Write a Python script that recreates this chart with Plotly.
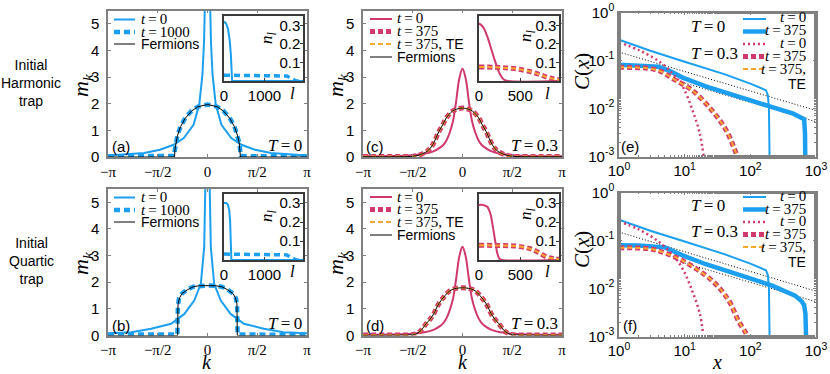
import numpy as np
import plotly.graph_objects as go

W, H = 830, 374
PI = np.pi

BLUE = "#1C9FF0"
MAG = "#D0386E"
ORANGE = "#F9A62B"
SERIF = "Liberation Serif"
SANS = "Liberation Sans"

# ---- panel (a): harmonic trap, T=0 ----
a_k_t0 = [-3.14, -2.6, -2.0, -1.5, -1.07, -0.75, -0.44, -0.26, -0.16, -0.11, -0.08, -0.05, 0.0,
          0.05, 0.08, 0.11, 0.16, 0.26, 0.44, 0.75, 1.07, 1.5, 2.0, 2.6, 3.14]
a_m_t0 = [0.06, 0.09, 0.15, 0.27, 0.46, 0.71, 1.21, 1.97, 3.09, 4.3, 5.5, 7.5, 10.0,
          7.5, 5.5, 4.3, 3.09, 1.97, 1.21, 0.71, 0.46, 0.27, 0.15, 0.09, 0.06]
a_k_t1000 = [-3.14, -2.0, -1.3, -1.05, -1.03, -1.0, -0.95, -0.85, -0.7, -0.5, -0.3, 0.0,
             0.3, 0.5, 0.7, 0.85, 0.95, 1.0, 1.03, 1.05, 1.3, 2.0, 3.14]
a_m_t1000 = [0.03, 0.03, 0.03, 0.04, 0.28, 0.55, 0.81, 1.15, 1.47, 1.74, 1.89, 1.97,
             1.89, 1.74, 1.47, 1.15, 0.81, 0.55, 0.28, 0.04, 0.03, 0.03, 0.03]
a_k_ferm = [-3.14, -1.04, -1.03, -1.0, -0.95, -0.85, -0.7, -0.5, -0.3, 0.0,
            0.3, 0.5, 0.7, 0.85, 0.95, 1.0, 1.03, 1.04, 3.14]
a_m_ferm = [0.0, 0.0, 0.27, 0.54, 0.8, 1.14, 1.46, 1.73, 1.89, 1.97,
            1.89, 1.73, 1.46, 1.14, 0.8, 0.54, 0.27, 0.0, 0.0]
a_l_t0 = [0, 50, 100, 140, 170, 185, 195, 200, 1950]
a_n_t0 = [0.32, 0.31, 0.28, 0.22, 0.14, 0.07, 0.01, 0.0, 0.0]
a_l_t1000 = [0, 500, 1000, 1400, 1550, 1650, 1720, 1780, 1950]
a_n_t1000 = [0.031, 0.031, 0.030, 0.029, 0.027, 0.015, 0.005, 0.0, 0.0]

# ---- panel (b): quartic trap, T=0 ----
b_k_t0 = [-3.14, -2.4, -1.78, -1.15, -0.73, -0.42, -0.21, -0.105, -0.07, -0.04, 0.0,
          0.04, 0.07, 0.105, 0.21, 0.42, 0.73, 1.15, 1.78, 2.4, 3.14]
b_m_t0 = [0.08, 0.12, 0.25, 0.44, 0.81, 1.31, 1.94, 3.31, 5.5, 7.5, 10.0,
          7.5, 5.5, 3.31, 1.94, 1.31, 0.81, 0.44, 0.25, 0.12, 0.08]
b_k_t1000 = [-3.14, -2.0, -1.2, -0.95, -0.935, -0.9, -0.8, -0.63, -0.45, -0.25, 0.0,
             0.25, 0.45, 0.63, 0.8, 0.9, 0.935, 0.95, 1.2, 2.0, 3.14]
b_m_t1000 = [0.03, 0.03, 0.03, 0.04, 1.1, 1.4, 1.58, 1.73, 1.83, 1.87, 1.88,
             1.87, 1.83, 1.73, 1.58, 1.4, 1.1, 0.04, 0.03, 0.03, 0.03]
b_k_ferm = [-3.14, -0.94, -0.935, -0.93, -0.88, -0.8, -0.63, -0.45, -0.25, 0.0,
            0.25, 0.45, 0.63, 0.8, 0.88, 0.93, 0.935, 0.94, 3.14]
b_m_ferm = [0.0, 0.0, 0.9, 1.19, 1.42, 1.58, 1.72, 1.83, 1.87, 1.88,
            1.87, 1.83, 1.72, 1.58, 1.42, 1.19, 0.9, 0.0, 0.0]
b_l_t0 = [0, 60, 100, 130, 150, 165, 175, 182, 1950]
b_n_t0 = [0.30, 0.30, 0.29, 0.26, 0.21, 0.12, 0.04, 0.0, 0.0]
b_l_t1000 = [0, 500, 1000, 1400, 1550, 1650, 1720, 1780, 1950]
b_n_t1000 = [0.031, 0.031, 0.031, 0.030, 0.027, 0.015, 0.005, 0.0, 0.0]

# ---- panel (c): harmonic trap, T=0.3 ----
c_k_t0 = [-3.14, -2.2, -1.6, -1.2, -0.9, -0.7, -0.6, -0.5, -0.4, -0.3, -0.2, -0.1, 0.0,
          0.1, 0.2, 0.3, 0.4, 0.5, 0.6, 0.7, 0.9, 1.2, 1.6, 2.2, 3.14]
c_m_t0 = [0.03, 0.04, 0.07, 0.12, 0.22, 0.36, 0.46, 0.64, 0.93, 1.35, 2.1, 2.95, 3.31,
          2.95, 2.1, 1.35, 0.93, 0.64, 0.46, 0.36, 0.22, 0.12, 0.07, 0.04, 0.03]
c_k_t375 = [-3.14, -2.0, -1.55, -1.33, -1.12, -1.03, -0.94, -0.85, -0.745, -0.62, -0.51, -0.32, -0.2, 0.0,
            0.2, 0.32, 0.51, 0.62, 0.745, 0.85, 0.94, 1.03, 1.12, 1.33, 1.55, 2.0, 3.14]
c_m_t375 = [0.02, 0.02, 0.03, 0.09, 0.21, 0.31, 0.46, 0.68, 0.96, 1.22, 1.47, 1.72, 1.79, 1.84,
            1.79, 1.72, 1.47, 1.22, 0.96, 0.68, 0.46, 0.31, 0.21, 0.09, 0.03, 0.02, 0.02]
c_m_te = [0.02, 0.02, 0.03, 0.09, 0.21, 0.31, 0.46, 0.68, 0.96, 1.22, 1.47, 1.72, 1.79, 1.84,
          1.79, 1.72, 1.47, 1.22, 0.96, 0.68, 0.46, 0.31, 0.21, 0.09, 0.03, 0.02, 0.02]
c_m_ferm = [0.01, 0.01, 0.03, 0.09, 0.21, 0.31, 0.46, 0.68, 0.96, 1.22, 1.47, 1.72, 1.79, 1.84,
            1.79, 1.72, 1.47, 1.22, 0.96, 0.68, 0.46, 0.31, 0.21, 0.09, 0.03, 0.01, 0.01]
c_l_t0 = [0, 50, 100, 150, 200, 250, 300, 350, 970]
c_n_t0 = [0.31, 0.29, 0.24, 0.17, 0.10, 0.04, 0.008, 0.0, 0.0]
c_l_t375 = [0, 200, 350, 500, 650, 750, 825, 900, 970]
c_n_t375 = [0.075, 0.074, 0.070, 0.062, 0.047, 0.033, 0.020, 0.012, 0.007]

# ---- panel (d): quartic trap, T=0.3 ----
d_k_t0 = [-3.14, -2.2, -1.6, -1.2, -0.9, -0.7, -0.6, -0.5, -0.4, -0.3, -0.2, -0.1, 0.0,
          0.1, 0.2, 0.3, 0.4, 0.5, 0.6, 0.7, 0.9, 1.2, 1.6, 2.2, 3.14]
d_m_t0 = [0.03, 0.04, 0.07, 0.12, 0.22, 0.36, 0.47, 0.66, 0.96, 1.38, 2.13, 2.97, 3.33,
          2.97, 2.13, 1.38, 0.96, 0.66, 0.47, 0.36, 0.22, 0.12, 0.07, 0.04, 0.03]
d_k_t375 = [-3.14, -2.2, -1.6, -1.45, -1.31, -1.15, -1.03, -0.91, -0.75, -0.55, -0.4, -0.2, 0.0,
            0.2, 0.4, 0.55, 0.75, 0.91, 1.03, 1.15, 1.31, 1.45, 1.6, 2.2, 3.14]
d_m_t375 = [0.02, 0.02, 0.03, 0.07, 0.19, 0.44, 0.6, 0.81, 1.19, 1.5, 1.68, 1.77, 1.79,
            1.77, 1.68, 1.5, 1.19, 0.81, 0.6, 0.44, 0.19, 0.07, 0.03, 0.02, 0.02]
d_m_te = [0.02, 0.02, 0.03, 0.07, 0.19, 0.44, 0.6, 0.81, 1.19, 1.5, 1.68, 1.77, 1.79,
          1.77, 1.68, 1.5, 1.19, 0.81, 0.6, 0.44, 0.19, 0.07, 0.03, 0.02, 0.02]
d_m_ferm = [0.01, 0.01, 0.03, 0.07, 0.19, 0.44, 0.6, 0.81, 1.19, 1.5, 1.68, 1.77, 1.79,
            1.77, 1.68, 1.5, 1.19, 0.81, 0.6, 0.44, 0.19, 0.07, 0.03, 0.01, 0.01]
d_l_t0 = [0, 50, 100, 140, 170, 200, 225, 250, 280, 970]
d_n_t0 = [0.29, 0.29, 0.28, 0.24, 0.17, 0.09, 0.03, 0.005, 0.0, 0.0]
d_l_t375 = [0, 300, 475, 600, 700, 825, 900, 970]
d_n_t375 = [0.077, 0.076, 0.072, 0.062, 0.045, 0.015, 0.008, 0.004]

# ---- panel (e): correlations, harmonic ----
e_x_t0 = [1, 3, 10, 40, 100, 150, 173, 185, 192, 195, 197]
e_c_t0 = [0.27, 0.16, 0.094, 0.052, 0.033, 0.026, 0.024, 0.019, 0.01, 0.002, 0.0005]
e_x_t375 = [1, 2, 4, 6, 9.3, 21, 68, 215, 450, 615, 660, 680, 690]
e_c_t375 = [0.082, 0.08, 0.074, 0.06, 0.044, 0.029, 0.018, 0.0107, 0.0078, 0.0066, 0.006, 0.003, 0.0005]
e_x_hot0 = [1, 2.1, 4.2, 6.6, 9.4, 13.2, 17, 19.5]
e_c_hot0 = [0.24, 0.16, 0.093, 0.053, 0.028, 0.0091, 0.003, 0.001]
e_x_hot375 = [1, 2, 3, 4.5, 6.6, 13, 26, 43, 61, 66]
e_c_hot375 = [0.072, 0.071, 0.068, 0.058, 0.042, 0.024, 0.0091, 0.0035, 0.00115, 0.0009]
e_c_te = [0.072, 0.071, 0.068, 0.058, 0.042, 0.024, 0.0091, 0.0035, 0.00115, 0.0009]
e_x_fit1, e_c_fit1 = [1, 1000], [0.15, 0.0091]
e_x_fit2, e_c_fit2 = [10, 1000], [0.034, 0.0053]

# ---- panel (f): correlations, quartic ----
f_x_t0 = [1, 3, 10, 40, 100, 150, 173, 185, 192, 195, 197]
f_c_t0 = [0.27, 0.16, 0.095, 0.052, 0.033, 0.026, 0.024, 0.019, 0.01, 0.002, 0.0005]
f_x_t375 = [1, 2, 5, 9.3, 21, 68, 215, 480, 600, 660, 690, 700, 710]
f_c_t375 = [0.08, 0.079, 0.072, 0.049, 0.032, 0.019, 0.0115, 0.0071, 0.0055, 0.0045, 0.003, 0.0015, 0.0005]
f_x_hot0 = [1, 2, 4, 6.6, 9.4, 13, 17, 19]
f_c_hot0 = [0.25, 0.17, 0.095, 0.05, 0.025, 0.009, 0.003, 0.0012]
f_x_hot375 = [1, 3, 5, 9.3, 26, 47, 66, 86, 90]
f_c_hot375 = [0.07, 0.067, 0.055, 0.038, 0.0147, 0.0056, 0.0021, 0.00115, 0.0009]
f_c_te = [0.07, 0.067, 0.055, 0.038, 0.0147, 0.0056, 0.0021, 0.00115, 0.0009]
f_x_fit1, f_c_fit1 = [1, 1000], [0.15, 0.0088]
f_x_fit2, f_c_fit2 = [10, 1000], [0.034, 0.0053]


def xdom(a, b):
    return [a / W, b / W]


def ydom(top, bottom):
    return [1 - bottom / H, 1 - top / H]


fig = go.Figure()


def line(n, x, y, color, width, dash="solid", shape="linear"):
    fig.add_trace(go.Scatter(x=x, y=y, xaxis="x" + str(n), yaxis="y" + str(n), mode="lines",
                             line=dict(color=color, width=width, dash=dash, shape=shape),
                             showlegend=False, hoverinfo="skip"))


frame = dict(showline=True, mirror="ticks", linecolor="#808080", linewidth=1.5, ticks="inside",
             ticklen=3, tickcolor="#808080", showgrid=False, zeroline=False, automargin=False,
             tickfont=dict(family=SANS, size=15, color="black"))
inset = dict(showline=True, mirror=True, linecolor="#3a3a3a", linewidth=1.5, ticks="inside",
             ticklen=3, tickcolor="#3a3a3a", showgrid=False, zeroline=False, automargin=False,
             tickfont=dict(family=SANS, size=15, color="black"))
ktext = ["\u2212\u03c0", "\u2212\u03c0/2", "0", "\u03c0/2", "\u03c0"]
axes = {}


def k_panel(n, x0, x1, top, bottom):
    axes["xaxis" + str(n)] = dict(frame, domain=xdom(x0, x1), anchor="y" + str(n), range=[-PI, PI],
                                  tickvals=[-PI, -PI / 2, 0, PI / 2, PI], ticktext=ktext,
                                  tickfont=dict(family=SERIF, size=15, color="black"))
    axes["yaxis" + str(n)] = dict(frame, domain=ydom(top, bottom), anchor="x" + str(n), range=[0, 5.5],
                                  tickvals=[0, 1, 2, 3, 4, 5], ticklabelstandoff=4)


def n_inset(n, x0, x1, top, bottom, lmax, lticks):
    axes["xaxis" + str(n)] = dict(inset, domain=xdom(x0, x1), anchor="y" + str(n), range=[0, lmax],
                                  tickvals=lticks)
    axes["yaxis" + str(n)] = dict(inset, domain=ydom(top, bottom), anchor="x" + str(n), range=[0, 0.35],
                                  side="right", tickvals=[0.1, 0.2, 0.3], ticklabelposition="inside")


def c_panel(n, x0, x1, top, bottom):
    axes["xaxis" + str(n)] = dict(frame, domain=xdom(x0, x1), anchor="y" + str(n), type="log", range=[0, 3],
                                  tickvals=[1, 10, 100, 1000],
                                  ticktext=["10<sup>0</sup>", "10<sup>1</sup>", "10<sup>2</sup>", "10<sup>3</sup>"],
                                  minor=dict(ticks="inside", ticklen=2, tickcolor="#808080"))
    axes["yaxis" + str(n)] = dict(frame, domain=ydom(top, bottom), anchor="x" + str(n), type="log", range=[-3, 0],
                                  tickvals=[0.001, 0.01, 0.1, 1],
                                  ticktext=["10<sup>-3</sup>", "10<sup>-2</sup>", "10<sup>-1</sup>", "10<sup>0</sup>"],
                                  minor=dict(ticks="inside", ticklen=2, tickcolor="#808080"))


k_panel(1, 108, 307, 10.5, 157)
n_inset(2, 224, 303, 16, 81, 1950, [0, 1000])
k_panel(3, 363, 562, 10.5, 157)
n_inset(4, 479, 559, 16, 81, 970, [0, 500])
c_panel(5, 619, 816, 12.5, 156.5)
k_panel(6, 108, 307, 189, 335.5)
n_inset(7, 224, 303, 193.5, 260, 1950, [0, 1000])
k_panel(8, 363, 562, 189, 335.5)
n_inset(9, 479, 559, 193.5, 260, 970, [0, 500])
c_panel(10, 619, 816, 192.5, 336.5)

# panel a / b
for n, ni, kt, mt, kd, md, kf, mf, lt, nt, ld, nd in [
        (1, 2, a_k_t0, a_m_t0, a_k_t1000, a_m_t1000, a_k_ferm, a_m_ferm, a_l_t0, a_n_t0, a_l_t1000, a_n_t1000),
        (6, 7, b_k_t0, b_m_t0, b_k_t1000, b_m_t1000, b_k_ferm, b_m_ferm, b_l_t0, b_n_t0, b_l_t1000, b_n_t1000)]:
    line(n, kt, mt, BLUE, 2)
    line(n, kd, md, BLUE, 4.5, "6px,4px")
    line(n, kf, mf, "black", 1)
    line(ni, lt, nt, BLUE, 2)
    line(ni, ld, nd, BLUE, 3.5, "6px,4px")

# panel c / d
for n, ni, kt, mt, kd, md, me, mf, lt, nt, ld, nd in [
        (3, 4, c_k_t0, c_m_t0, c_k_t375, c_m_t375, c_m_te, c_m_ferm, c_l_t0, c_n_t0, c_l_t375, c_n_t375),
        (8, 9, d_k_t0, d_m_t0, d_k_t375, d_m_t375, d_m_te, d_m_ferm, d_l_t0, d_n_t0, d_l_t375, d_n_t375)]:
    line(n, kt, mt, MAG, 2, shape="spline")
    line(n, kd, md, MAG, 5, "5px,3px", shape="spline")
    line(n, kd, me, ORANGE, 2, "5px,3px", shape="spline")
    line(n, kd, mf, "black", 1, shape="spline")
    line(ni, lt, nt, MAG, 2, shape="spline")
    line(ni, ld, nd, MAG, 5, "5px,3px", shape="spline")
    line(ni, ld, nd, ORANGE, 2, "5px,3px", shape="spline")

# panel e / f
for n, xt, ct, xt2, ct2, xh, ch, xh2, ch2, cte, xf1, cf1, xf2, cf2 in [
        (5, e_x_t0, e_c_t0, e_x_t375, e_c_t375, e_x_hot0, e_c_hot0, e_x_hot375, e_c_hot375, e_c_te,
         e_x_fit1, e_c_fit1, e_x_fit2, e_c_fit2),
        (10, f_x_t0, f_c_t0, f_x_t375, f_c_t375, f_x_hot0, f_c_hot0, f_x_hot375, f_c_hot375, f_c_te,
         f_x_fit1, f_c_fit1, f_x_fit2, f_c_fit2)]:
    line(n, xf1, cf1, "black", 1, "1px,2px")
    line(n, xf2, cf2, "black", 1, "1px,2px")
    line(n, xt, ct, BLUE, 2)
    line(n, xt2, ct2, BLUE, 4.5)
    line(n, xh, ch, MAG, 2.5, "2px,3px", shape="spline")
    line(n, xh2, ch2, MAG, 5, "5px,3px", shape="spline")
    line(n, xh2, cte, ORANGE, 2, "5px,3px", shape="spline")


def label(x, y, text, size=15, family=SANS, xanchor="center", angle=0):
    fig.add_annotation(x=x / W, y=1 - y / H, xref="paper", yref="paper", text=text, showarrow=False,
                       font=dict(family=family, size=size, color="black"), xanchor=xanchor,
                       yanchor="middle", textangle=angle)


def key(x0, x1, y, color, width, dash="solid"):
    fig.add_shape(type="line", xref="paper", yref="paper", x0=x0 / W, x1=x1 / W, y0=1 - y / H, y1=1 - y / H,
                  line=dict(color=color, width=width, dash=dash))


def tt(v):
    return "<i>t</i>\u2009=\u2009" + v


for dy in [0, 178]:
    # row labels
    label(31, 83 + dy, "Initial<br>" + ("Harmonic" if dy == 0 else "Quartic") + "<br>trap", size=14)
    # axis titles
    label(82, 85 + dy, "<i>m</i><sub><i>k</i></sub>", size=22, family=SERIF, angle=-90)
    label(337, 85 + dy, "<i>m</i><sub><i>k</i></sub>", size=22, family=SERIF, angle=-90)
    label(582, 72 + dy, "<i>C</i>(<i>x</i>)", size=21, family=SERIF, angle=-90)
    # inset labels
    label(268, 38 + dy, "<i>n</i><sub><i>l</i></sub>", size=17, family=SERIF, angle=-90)
    label(527, 36 + dy, "<i>n</i><sub><i>l</i></sub>", size=17, family=SERIF, angle=-90)
    label(292, 93 + dy, "<i>l</i>", size=17, family=SERIF)
    label(547, 93 + dy, "<i>l</i>", size=17, family=SERIF)
    # temperatures
    label(304, 145 + dy, "<i>T</i>\u2009=\u20090", size=17, family=SERIF, xanchor="right")
    label(560, 145 + dy, "<i>T</i>\u2009=\u20090.3", size=17, family=SERIF, xanchor="right")
    label(689, 27 + dy, "<i>T</i>\u2009=\u20090", size=17, family=SERIF, xanchor="left")
    label(689, 53 + dy, "<i>T</i>\u2009=\u20090.3", size=17, family=SERIF, xanchor="left")

    # legend a/b
    key(114, 135, 19.5 + dy, BLUE, 2)
    key(114, 135, 32 + dy, BLUE, 4.5, "6px,4px")
    key(114, 135, 44 + dy, "black", 1)
    label(139, 19 + dy, tt("0"), family=SERIF, xanchor="left")
    label(139, 31.5 + dy, tt("1000"), family=SERIF, xanchor="left")
    label(139, 44 + dy, "Fermions", size=14, xanchor="left")

    # legend c/d
    key(370, 392, 19 + dy, MAG, 2)
    key(370, 392, 31.5 + dy, MAG, 5, "5px,3px")
    key(370, 392, 44 + dy, ORANGE, 2, "5px,3px")
    key(370, 392, 57 + dy, "black", 1)
    label(395, 18.5 + dy, tt("0"), family=SERIF, xanchor="left")
    label(395, 31 + dy, tt("375"), family=SERIF, xanchor="left")
    label(395, 43.5 + dy, tt("375") + ", <span style='font-family:Liberation Sans;font-size:14px'>TE</span>",
          family=SERIF, xanchor="left")
    label(395, 57 + dy, "Fermions", size=14, xanchor="left")

    # legend e/f
    key(743, 766, 19 + dy, BLUE, 2)
    key(743, 766, 31.5 + dy, BLUE, 4.5)
    key(743, 766, 44 + dy, MAG, 2.5, "2px,3px")
    key(743, 766, 56.5 + dy, MAG, 5, "5px,3px")
    key(743, 766, 69 + dy, ORANGE, 2, "5px,3px")
    label(808, 17.5 + dy, tt("0"), family=SERIF, xanchor="right")
    label(808, 30.5 + dy, tt("375"), family=SERIF, xanchor="right")
    label(808, 43 + dy, tt("0"), family=SERIF, xanchor="right")
    label(808, 56 + dy, tt("375"), family=SERIF, xanchor="right")
    label(808, 69 + dy, tt("375") + ",", family=SERIF, xanchor="right")
    label(808, 84 + dy, "TE", size=14, xanchor="right")

for x, y, s in [(121, 146, "(a)"), (375, 146, "(c)"), (630, 146, "(e)"),
                (121, 325, "(b)"), (375, 325, "(d)"), (630, 325, "(f)")]:
    label(x, y, s, size=15)

label(207, 362, "<i>k</i>", size=20, family=SERIF)
label(463, 362, "<i>k</i>", size=20, family=SERIF)
label(717, 362, "<i>x</i>", size=20, family=SERIF)

fig.update_layout(width=W, height=H, margin=dict(l=0, r=0, t=0, b=0),
                  paper_bgcolor="white", plot_bgcolor="white", showlegend=False, **axes)
# the page's default body margin would shift the figure by 8px
fig.write_html("out.html", config={"displayModeBar": False},
               post_script="document.body.style.margin='0';")
